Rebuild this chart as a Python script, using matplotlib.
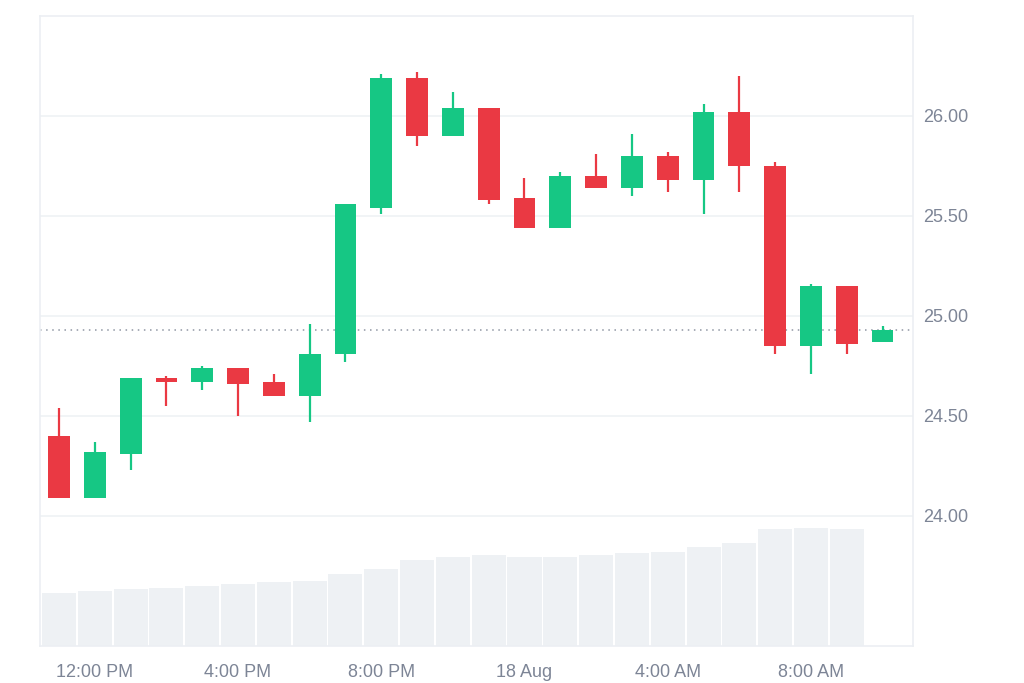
import matplotlib
matplotlib.use('Agg')
import matplotlib.pyplot as plt
import numpy as np
import pandas as pd

# hourly candles, 17 Aug 11:00 -> 18 Aug 10:00
times = pd.date_range('2023-08-17 11:00', periods=24, freq='h')

opens = [24.40, 24.09, 24.31, 24.69, 24.67, 24.74, 24.67, 24.60, 24.81, 25.54, 26.19, 25.90,
         26.04, 25.59, 25.44, 25.70, 25.64, 25.80, 25.68, 26.02, 25.75, 24.85, 25.15, 24.87]
highs = [24.54, 24.37, 24.69, 24.70, 24.75, 24.74, 24.71, 24.96, 25.56, 26.21, 26.22, 26.12,
         26.04, 25.69, 25.72, 25.81, 25.91, 25.82, 26.06, 26.20, 25.77, 25.16, 25.15, 24.95]
lows = [24.09, 24.09, 24.23, 24.55, 24.63, 24.50, 24.60, 24.47, 24.77, 25.51, 25.85, 25.90,
        25.56, 25.44, 25.44, 25.64, 25.60, 25.62, 25.51, 25.62, 24.81, 24.71, 24.81, 24.87]
closes = [24.09, 24.32, 24.69, 24.67, 24.74, 24.66, 24.60, 24.81, 25.56, 26.19, 25.90, 26.04,
          25.58, 25.44, 25.70, 25.64, 25.80, 25.68, 26.02, 25.75, 24.85, 25.15, 24.86, 24.93]

# volume (millions), last hour not yet reported
volumes = [53.3, 55.0, 56.7, 58.3, 60.0, 62.0, 63.7, 65.3, 72.0, 77.0, 85.7, 89.0,
           91.0, 89.0, 89.0, 91.0, 92.7, 94.3, 99.3, 103.0, 116.7, 118.0, 116.7]

last_price = 24.93
price_ticks = [24.0, 24.5, 25.0, 25.5, 26.0]

GREEN = '#16c784'
RED = '#ea3943'
GRID = '#eff2f5'
TEXT = '#7d8596'

plt.rcParams['font.family'] = ['Liberation Sans', 'DejaVu Sans']

fig = plt.figure(figsize=(10.24, 6.83), dpi=100)
ax = fig.add_axes([0.0391, 0.0542, 0.8525, 0.9224])
axv = ax.twinx()

x = np.arange(len(times))

# volume underneath
axv.bar(x[:len(volumes)], volumes, width=0.95, color='#eef1f4', zorder=1)
axv.set_ylim(0, max(volumes) / 0.187)
axv.set_yticks([])
for s in axv.spines.values():
    s.set_visible(False)
ax.set_zorder(axv.get_zorder() + 1)
ax.patch.set_visible(False)

# candles
for i in range(len(times)):
    o, h, l, c = opens[i], highs[i], lows[i], closes[i]
    col = GREEN if c >= o else RED
    ax.vlines(x[i], l, h, color=col, linewidth=1.6, zorder=3)
    ax.bar(x[i], abs(c - o), bottom=min(o, c), width=0.61, color=col, zorder=4)

ax.axhline(last_price, color='#8f96a3', linestyle=(0, (1, 3)), linewidth=1.1, zorder=2)

ax.set_xlim(-0.53, 23.85)
ax.set_ylim(23.35, 26.5)

ax.yaxis.tick_right()
ax.set_yticks(price_ticks)
ax.set_yticklabels(['%.2f' % v for v in price_ticks])
ax.grid(axis='y', color=GRID, linewidth=1.2, zorder=0)

tick_idx = [i for i, t in enumerate(times) if t.hour % 4 == 0]
tick_lab = [t.strftime('%d %b') if t.hour == 0 else t.strftime('%I:%M %p').lstrip('0')
            for t in times[tick_idx]]
ax.set_xticks(x[tick_idx])
ax.set_xticklabels(tick_lab)

ax.tick_params(axis='both', length=0, labelsize=13, colors=TEXT)
ax.tick_params(axis='x', pad=13)
ax.tick_params(axis='y', pad=7)
for s in ax.spines.values():
    s.set_color('#eceff3')
    s.set_linewidth(1.2)

plt.savefig('out.png', dpi=100)
